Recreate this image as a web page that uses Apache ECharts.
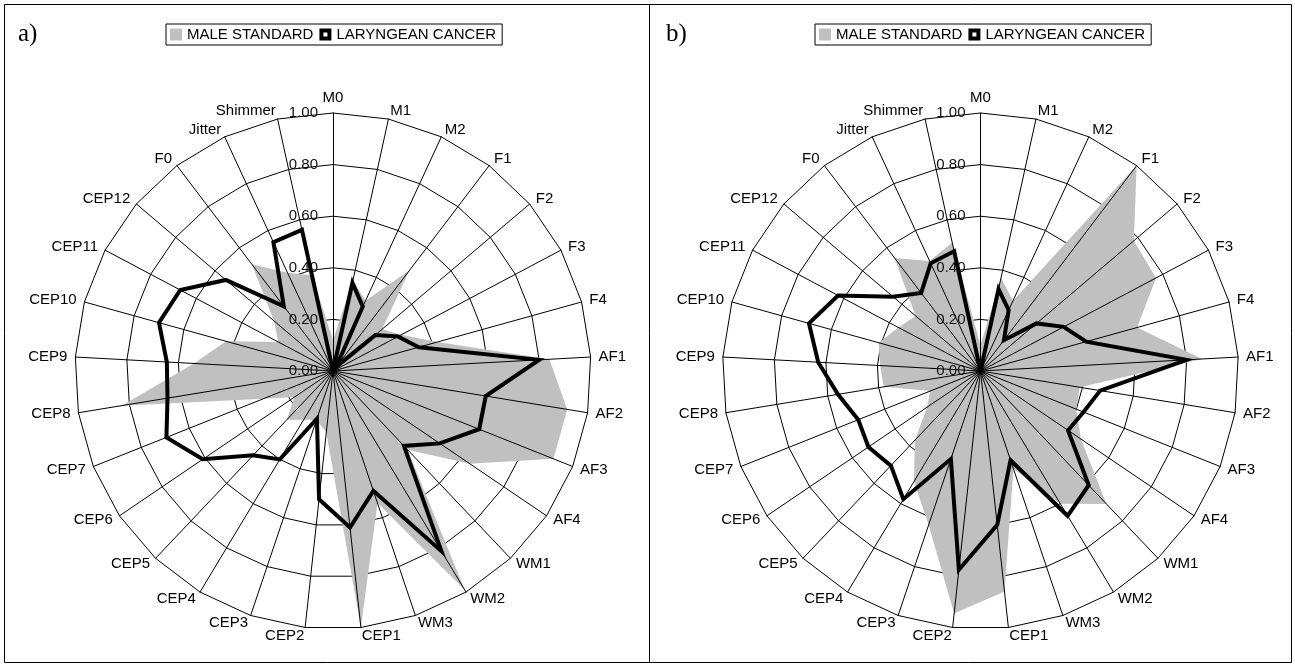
<!DOCTYPE html>
<html>
<head>
<meta charset="utf-8">
<script src="https://cdn.jsdelivr.net/npm/echarts@6/dist/echarts.min.js"></script>
<style>
html, body { margin: 0; padding: 0; background: #fff; }
#chart { width: 1295px; height: 666px; }
</style>
</head>
<body>
<div id="chart"></div>
<script>
// axes go clockwise from the top, as in the picture
var axes = ['M0', 'M1', 'M2', 'F1', 'F2', 'F3', 'F4', 'AF1', 'AF2', 'AF3', 'AF4',
    'WM1', 'WM2', 'WM3', 'CEP1', 'CEP2', 'CEP3', 'CEP4', 'CEP5', 'CEP6', 'CEP7',
    'CEP8', 'CEP9', 'CEP10', 'CEP11', 'CEP12', 'F0', 'Jitter', 'Shimmer'];

var ticks = [0, 0.2, 0.4, 0.6, 0.8, 1.0];

// a)
var maleA = [0.12, 0.36, 0.30, 0.49, 0.25, 0.30, 0.42, 0.84, 0.92, 0.92, 0.64,
    0.42, 0.99, 0.54, 1.00, 0.24, 0.20, 0.22, 0.26, 0.18, 0.29,
    0.83, 0.54, 0.43, 0.24, 0.30, 0.52, 0.42, 0.38];
var cancerA = [0.00, 0.35, 0.275, 0.02, 0.215, 0.285, 0.345, 0.80, 0.60, 0.61, 0.50,
    0.40, 0.815, 0.49, 0.61, 0.50, 0.195, 0.40, 0.45, 0.61, 0.695,
    0.65, 0.645, 0.70, 0.67, 0.545, 0.315, 0.55, 0.56];

// b)
var maleB = [0.10, 0.37, 0.30, 1.00, 0.78, 0.77, 0.63, 0.86, 0.39, 0.40, 0.47,
    0.71, 0.60, 0.40, 0.86, 0.945, 0.63, 0.50, 0.37, 0.25, 0.21,
    0.38, 0.39, 0.41, 0.36, 0.33, 0.55, 0.47, 0.51];
var cancerB = [0.00, 0.325, 0.26, 0.15, 0.285, 0.365, 0.425, 0.80, 0.47, 0.43, 0.41,
    0.61, 0.655, 0.365, 0.60, 0.775, 0.36, 0.58, 0.505, 0.525, 0.51,
    0.56, 0.63, 0.69, 0.625, 0.445, 0.38, 0.46, 0.475];

var GREY = '#c0c0c0';
var FONT = 'Liberation Sans, Arial, sans-serif';

// echarts radar runs counter-clockwise, so flip everything after the first axis
function ccw(arr) {
    return [arr[0]].concat(arr.slice(1).reverse());
}

function indicators(withLabel) {
    return ccw(axes).map(function (n, i) {
        var o = { name: n, min: ticks[0], max: ticks[ticks.length - 1] };
        if (withLabel && i === 0) o.axisLabel = { show: true };
        return o;
    });
}

// rings + names, under the grey area
function ringRadar(cx) {
    return {
        center: [cx, 371], radius: 258, startAngle: 90, shape: 'polygon',
        splitNumber: ticks.length - 1,
        indicator: indicators(false),
        axisName: { color: '#000', fontFamily: FONT, fontSize: 15 },
        axisNameGap: 8,
        splitLine: { lineStyle: { color: '#000', width: 1 } },
        splitArea: { show: false },
        axisLine: { show: false },
        axisTick: { show: false },
        axisLabel: { show: false },
        z: 0
    };
}

// spokes + tick labels, drawn over the grey area
function spokeRadar(cx) {
    return {
        center: [cx, 371], radius: 258, startAngle: 90, shape: 'polygon',
        splitNumber: ticks.length - 1,
        indicator: indicators(true),
        axisName: { show: false },
        splitLine: { show: false },
        splitArea: { show: false },
        axisLine: { lineStyle: { color: '#000', width: 1 } },
        axisTick: { show: false },
        axisLabel: {
            show: false, color: '#111', fontFamily: FONT, fontSize: 15, margin: 15,
            formatter: function (v) { return Number(v).toFixed(2); }
        },
        z: 3
    };
}

function legendFor(left) {
    return {
        left: left, top: 24, orient: 'horizontal',
        borderColor: '#000', borderWidth: 1, padding: [3, 6, 3, 4],
        itemGap: 6, itemWidth: 12, itemHeight: 12, selectedMode: false,
        textStyle: { color: '#000', fontFamily: FONT, fontSize: 15 },
        data: [
            { name: 'MALE STANDARD', icon: 'rect', itemStyle: { color: GREY } },
            { name: 'LARYNGEAN CANCER', icon: 'path://M0,0H12V12H0Z M4,4V8H8V4Z', itemStyle: { color: '#000' } }
        ]
    };
}

function greySeries(ri, vals) {
    return {
        type: 'radar', radarIndex: ri, symbol: 'none', z: 2, silent: true,
        lineStyle: { width: 0, color: GREY },
        itemStyle: { color: GREY },
        areaStyle: { color: GREY, opacity: 1 },
        data: [{ name: 'MALE STANDARD', value: ccw(vals) }]
    };
}

function blackSeries(ri, vals) {
    return {
        type: 'radar', radarIndex: ri, symbol: 'none', z: 4, silent: true,
        lineStyle: { width: 4, color: '#000', join: 'miter' },
        itemStyle: { color: '#000' },
        data: [{ name: 'LARYNGEAN CANCER', value: ccw(vals) }]
    };
}

var myChart = echarts.init(document.getElementById('chart'));

var option = {
    backgroundColor: '#fff',
    animation: false,
    title: [
        { text: 'a)', left: 13, top: 17, textStyle: { fontFamily: 'Liberation Serif, serif', fontSize: 25, fontWeight: 'normal', color: '#000' } },
        { text: 'b)', left: 661, top: 17, textStyle: { fontFamily: 'Liberation Serif, serif', fontSize: 25, fontWeight: 'normal', color: '#000' } }
    ],
    legend: [legendFor(166), legendFor(815)],
    radar: [ringRadar(333), ringRadar(980.5), spokeRadar(333), spokeRadar(980.5)],
    series: [
        greySeries(0, maleA), greySeries(1, maleB),
        blackSeries(2, cancerA), blackSeries(3, cancerB)
    ],
    graphic: [
        { type: 'rect', shape: { x: 4.5, y: 4.5, width: 1287, height: 658 }, style: { fill: null, stroke: '#000', lineWidth: 1 }, silent: true },
        { type: 'line', shape: { x1: 649.5, y1: 4.5, x2: 649.5, y2: 662.5 }, style: { stroke: '#000', lineWidth: 1 }, silent: true }
    ]
};

myChart.setOption(option);
</script>
</body>
</html>
